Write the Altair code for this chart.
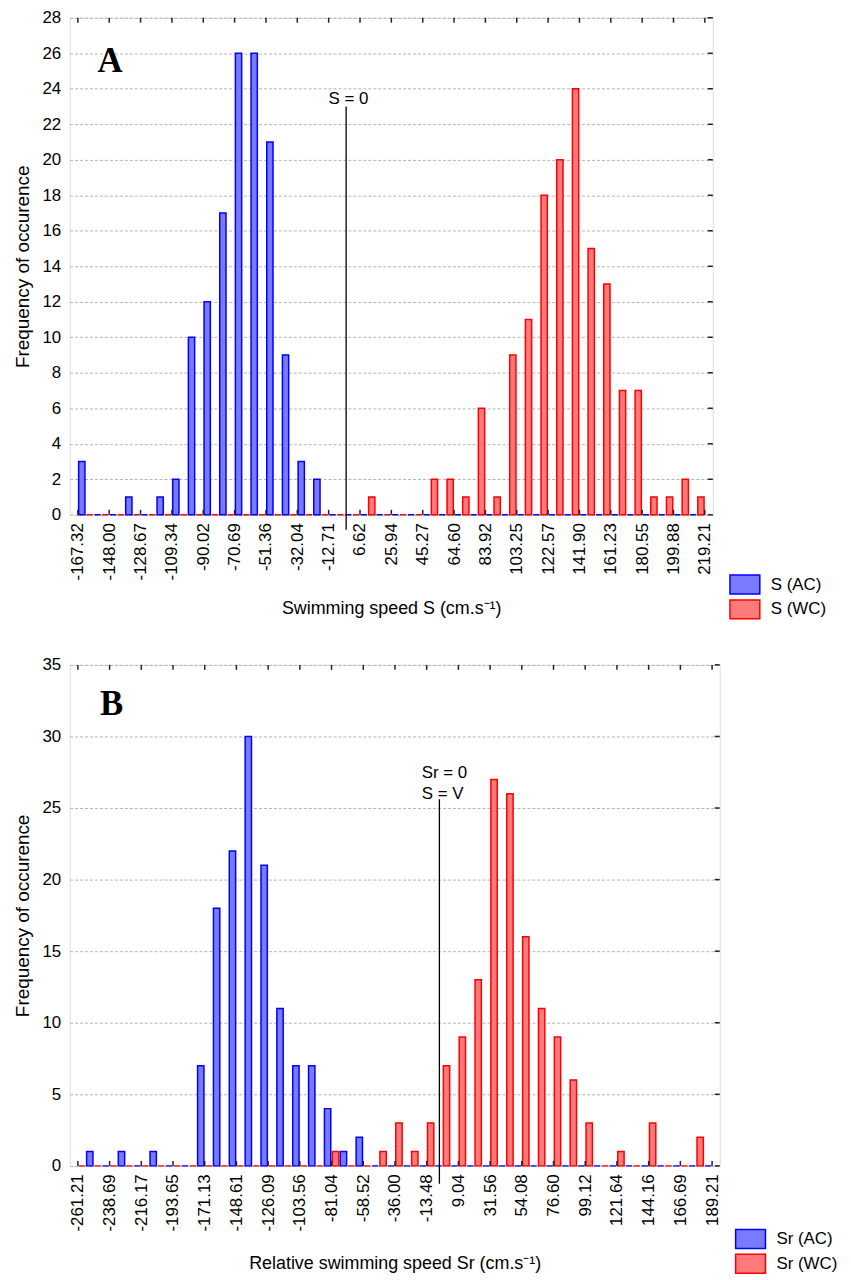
import altair as alt
import pandas as pd

FONT = "Liberation Sans"

# ---------------- Panel A data ----------------
A_tick_labels = [-167.32, -148.00, -128.67, -109.34, -90.02, -70.69, -51.36, -32.04,
                 -12.71, 6.62, 25.94, 45.27, 64.60, 83.92, 103.25, 122.57, 141.90,
                 161.23, 180.55, 199.88, 219.21]
A_series = ["S (AC)", "S (WC)"]
A_AC = [3, 0, 0, 1, 0, 1, 2, 10, 12, 17, 26, 26, 21, 9, 3, 2] + [0] * 24
A_WC = [0] * 18 + [1, 0, 0, 0, 2, 2, 1, 6, 1, 9, 11, 18, 20, 24, 15, 13, 7, 7, 1, 1, 2, 1]
A_slot = [0, 1]                      # AC bar left half of bin, WC right half
A_yticks = list(range(0, 29, 2))
A_marker_x = [-1.93]
A_marker_y = [23.0]
A_marker_y2 = [-0.85]
A_marker_text = ["S = 0"]
A_marker_text_x = [-12.77]
A_marker_text_y = [23.16]
A_label = ["A"]
A_label_x = [-147.4]
A_label_y = [25.54]

# ---------------- Panel B data ----------------
B_tick_labels = [-261.21, -238.69, -216.17, -193.65, -171.13, -148.61, -126.09, -103.56,
                 -81.04, -58.52, -36.00, -13.48, 9.04, 31.56, 54.08, 76.60, 99.12,
                 121.64, 144.16, 166.69, 189.21]
B_series = ["Sr (AC)", "Sr (WC)"]
B_AC = [1, 0, 1, 0, 1, 0, 0, 7, 18, 22, 30, 21, 11, 7, 7, 4, 1, 2] + [0] * 22
B_WC = [0] * 16 + [1, 0, 0, 1, 3, 1, 3, 7, 9, 13, 27, 26, 16, 11, 9, 6, 3, 0, 1, 0, 3, 0, 0, 2]
B_slot = [1, 0]                      # WC bar left half of bin, AC right half
B_yticks = list(range(0, 36, 5))
B_marker_x = [-4.45]
B_marker_y = [25.62]
B_marker_y2 = [-1.25]
B_marker_text = ["Sr = 0", "S = V"]
B_marker_text_x = [-17.0, -17.0]
B_marker_text_y = [27.13, 25.6]
B_label = ["B"]
B_label_x = [-237.2]
B_label_y = [32.24]

FILLS = ["#7a7aff", "#ff7a7a"]
STROKES = ["#0000ff", "#ff0000"]
RECT = "M-1.58,-1L1.58,-1L1.58,1L-1.58,1Z"
HYPHEN_LABEL = "replace(format(datum.value, '.2f'), '\u2212', '-')"


def panel(ticks, series, counts, slots, yticks, x_dom, y_dom, W, H, xtitle, title_pad,
          leg_x, leg_y, mx, my, my2, mt, mtx, mty, pl, plx, ply):
    start = ticks[0]
    bw = (ticks[-1] - ticks[0]) / 40.0
    half = bw / 2.0
    inset = 0.1 * half
    rows = []
    for name, cnt, slot in zip(series, counts, slots):
        for k, c in enumerate(cnt):
            left = start + k * bw + slot * half
            rows.append({"series": name, "count": c, "x0": left + inset, "x1": left + half - inset})
    df = pd.DataFrame(rows)

    xs = alt.Scale(domain=x_dom, nice=False, zero=False)
    ys = alt.Scale(domain=y_dom, nice=False, zero=False)
    xax = alt.Axis(values=ticks, labelExpr=HYPHEN_LABEL, labelAngle=270, title=xtitle,
                   grid=False, ticks=False, domain=False, labelPadding=8,
                   titlePadding=title_pad, labelFontSize=17, titleFontSize=18,
                   titleFontWeight="normal", labelColor="black",
                   titleColor="black", labelOverlap=False, labelFont=FONT,
                   titleFont=FONT)
    yax = alt.Axis(values=yticks, grid=True, gridDash=[3, 2], gridColor="#b4b4b4",
                   gridWidth=1, ticks=False, domain=False, labelPadding=9,
                   title="Frequency of occurence", titlePadding=9,
                   labelFontSize=17, titleFontSize=19, titleFontWeight="normal",
                   labelColor="black", titleColor="black", labelFont=FONT,
                   titleFont=FONT)
    leg = alt.Legend(orient="none", legendX=leg_x, legendY=leg_y, title=None,
                     symbolType=RECT, symbolSize=361, symbolStrokeWidth=1.5,
                     labelFontSize=17, labelOffset=15.5, rowPadding=0, padding=0,
                     labelColor="black", labelFont=FONT)

    bars = alt.Chart(df).mark_bar(strokeWidth=1.5, opacity=1).encode(
        x=alt.X("x0:Q", scale=xs, axis=xax),
        x2="x1:Q",
        y=alt.Y("count:Q", scale=ys, axis=yax),
        y2=alt.datum(0),
        fill=alt.Fill("series:N", scale=alt.Scale(domain=series, range=FILLS), legend=leg),
        stroke=alt.Stroke("series:N", scale=alt.Scale(domain=series, range=STROKES), legend=leg),
    )

    mdf = pd.DataFrame({"x": mx, "y": my, "y2": my2})
    marker = alt.Chart(mdf).mark_rule(color="black", strokeWidth=1.3).encode(
        x=alt.X("x:Q", scale=xs, axis=xax),
        y=alt.Y("y:Q", scale=ys, axis=yax),
        y2="y2:Q",
    )
    tdf = pd.DataFrame({"t": mt, "x": mtx, "y": mty})
    mtext = alt.Chart(tdf).mark_text(align="left", baseline="alphabetic", fontSize=17,
                                     font=FONT, color="black").encode(
        x=alt.X("x:Q", scale=xs, axis=xax),
        y=alt.Y("y:Q", scale=ys, axis=yax),
        text="t:N",
    )
    ldf = pd.DataFrame({"t": pl, "x": plx, "y": ply})
    plabel = alt.Chart(ldf).mark_text(align="center", baseline="middle", fontSize=35,
                                      font="Liberation Serif", fontWeight="bold",
                                      color="black").encode(
        x=alt.X("x:Q", scale=xs, axis=xax),
        y=alt.Y("y:Q", scale=ys, axis=yax),
        text="t:N",
    )
    tk = pd.DataFrame({"v": ticks})
    top_ticks = alt.Chart(tk).mark_rule(color="#222222", strokeWidth=1.5).encode(
        x=alt.X("v:Q", scale=xs, axis=xax), y=alt.value(0), y2=alt.value(5))
    bot_ticks = alt.Chart(tk).mark_rule(color="#222222", strokeWidth=1.5).encode(
        x=alt.X("v:Q", scale=xs, axis=xax), y=alt.value(H - 5), y2=alt.value(H))
    yk = pd.DataFrame({"v": yticks})
    right_ticks = alt.Chart(yk).mark_rule(color="#222222", strokeWidth=1.5).encode(
        y=alt.Y("v:Q", scale=ys, axis=yax), x=alt.value(W - 5), x2=alt.value(W))

    return alt.layer(bars, marker, mtext, plabel, top_ticks, bot_ticks, right_ticks).properties(
        width=W, height=H)


chartA = panel(A_tick_labels, A_series, [A_AC, A_WC], A_slot, A_yticks,
               [-172.4, 224.1], [0, 28], 647, 500,
               "Swimming speed S (cm.s\u207b\u00b9)", 20, 668.8, 559.7,
               A_marker_x, A_marker_y, A_marker_y2, A_marker_text, A_marker_text_x,
               A_marker_text_y, A_label, A_label_x, A_label_y)

chartB = panel(B_tick_labels, B_series, [B_AC, B_WC], B_slot, B_yticks,
               [-267.07, 194.65], [0, 35], 654, 504,
               "Relative swimming speed Sr (cm.s\u207b\u00b9)", 24, 674.5, 567,
               B_marker_x, B_marker_y, B_marker_y2, B_marker_text, B_marker_text_x,
               B_marker_text_y, B_label, B_label_x, B_label_y)

chart = alt.vconcat(chartA, chartB, spacing=32).resolve_scale(
    x="independent", y="independent", fill="independent", stroke="independent"
).resolve_legend(fill="independent", stroke="independent").properties(
    padding={"left": 5, "top": -4, "right": 5, "bottom": 0}
).configure_view(stroke="black", strokeWidth=1.5).configure(font=FONT)

chart.save("out.html", embed_options={"renderer": "svg", "actions": False})
